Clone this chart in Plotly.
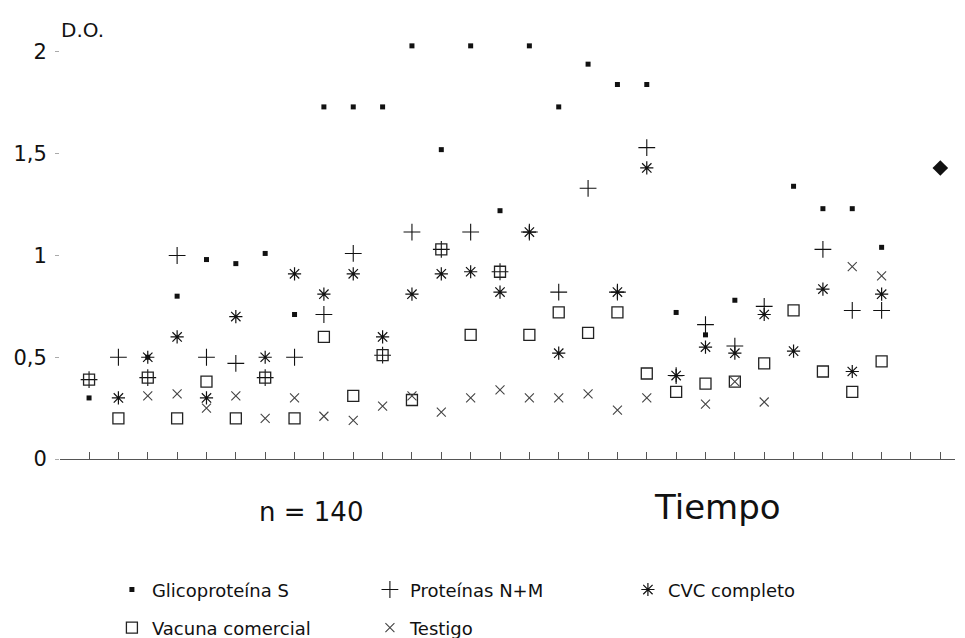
import plotly.graph_objects as go

# ---- data ----
tiempo = list(range(28))

glicoproteina_s = [0.30, None, 0.50, 0.80, 0.98, 0.96, 1.01, 0.71, 1.73, 1.73,
                   1.73, 2.03, 1.52, 2.03, 1.22, 2.03, 1.73, 1.94, 1.84, 1.84,
                   0.72, 0.61, 0.78, None, 1.34, 1.23, 1.23, 1.04]

proteinas_nm = [0.39, 0.50, 0.40, 1.00, 0.50, 0.47, 0.40, 0.50, 0.71, 1.01,
                0.51, 1.115, 1.03, 1.115, 0.92, 1.115, 0.82, 1.33, 0.82, 1.53,
                0.41, 0.66, 0.555, 0.75, None, 1.03, 0.73, 0.73]

cvc_completo = [None, 0.30, 0.50, 0.60, 0.30, 0.70, 0.50, 0.91, 0.81, 0.91,
                0.60, 0.81, 0.91, 0.92, 0.82, 1.115, 0.52, None, 0.82, 1.43,
                0.41, 0.55, 0.52, 0.71, 0.53, 0.835, 0.43, 0.81]

vacuna_comercial = [0.39, 0.20, 0.40, 0.20, 0.38, 0.20, 0.40, 0.20, 0.60, 0.31,
                    0.51, 0.29, 1.03, 0.61, 0.92, 0.61, 0.72, 0.62, 0.72, 0.42,
                    0.33, 0.37, 0.38, 0.47, 0.73, 0.43, 0.33, 0.48]

testigo = [None, None, 0.31, 0.32, 0.25, 0.31, 0.20, 0.30, 0.21, 0.19,
           0.26, 0.31, 0.23, 0.30, 0.34, 0.30, 0.30, 0.32, 0.24, 0.30,
           None, 0.27, 0.38, 0.28, None, None, 0.945, 0.90]

extra_x = [29]
extra_y = [1.43]

y_ticks = [0, 0.5, 1, 1.5, 2]
y_tick_labels = ["0", "0,5", "1", "1,5", "2"]

FONT = "DejaVu Sans"
INK = "#111111"

fig = go.Figure()

fig.add_trace(go.Scatter(
    x=tiempo, y=glicoproteina_s, mode="markers", name="Glicoproteína S",
    marker=dict(symbol="square", size=5, color=INK), legend="legend"))
fig.add_trace(go.Scatter(
    x=tiempo, y=proteinas_nm, mode="markers", name="Proteínas N+M",
    marker=dict(symbol="cross-thin-open", size=12, color=INK,
                line=dict(width=1.1, color=INK)), legend="legend"))
fig.add_trace(go.Scatter(
    x=tiempo, y=cvc_completo, mode="markers", name="CVC completo",
    marker=dict(symbol="asterisk-open", size=11, color=INK,
                line=dict(width=1.2, color=INK)), legend="legend"))
fig.add_trace(go.Scatter(
    x=tiempo, y=vacuna_comercial, mode="markers", name="Vacuna comercial",
    marker=dict(symbol="square-open", size=11, color="#222222",
                line=dict(width=1.3, color="#222222")), legend="legend2"))
fig.add_trace(go.Scatter(
    x=tiempo, y=testigo, mode="markers", name="Testigo",
    marker=dict(symbol="x-thin-open", size=9, color="#444444",
                line=dict(width=1.1, color="#444444")), legend="legend2"))
fig.add_trace(go.Scatter(
    x=extra_x, y=extra_y, mode="markers", showlegend=False,
    marker=dict(symbol="diamond", size=12, color=INK)))

legend_common = dict(
    orientation="h", xanchor="left", yanchor="middle",
    entrywidth=213, entrywidthmode="pixels", itemwidth=30,
    font=dict(family=FONT, size=18, color=INK),
    bgcolor="rgba(0,0,0,0)", borderwidth=0,
)

fig.update_layout(
    width=965, height=638,
    margin=dict(l=60, r=10, t=20, b=179, autoexpand=False),
    paper_bgcolor="white", plot_bgcolor="white",
    font=dict(family=FONT, color=INK),
    legend=dict(x=0.058, y=-0.298, **legend_common),
    legend2=dict(x=0.058, y=-0.385, **legend_common),
    xaxis=dict(
        range=[-0.99, 29.5], showgrid=False, zeroline=False,
        showline=True, linecolor="#555555", linewidth=1,
        ticks="inside", ticklen=7, tickcolor="#555555", tickwidth=1,
        tickvals=list(range(0, 30)), showticklabels=False,
    ),
    yaxis=dict(
        range=[0, 2.157], showgrid=False, zeroline=False, showline=False,
        ticks="outside", ticklen=4, tickcolor="#aaaaaa",
        tickvals=y_ticks, ticktext=y_tick_labels,
        tickfont=dict(family=FONT, size=21, color=INK),
        ticklabelstandoff=4,
    ),
    annotations=[
        dict(text="D.O.", xref="paper", yref="paper", x=0.0246, y=0.977,
             xanchor="center", yanchor="middle", showarrow=False,
             font=dict(family=FONT, size=20, color=INK)),
        dict(text="n = 140", xref="paper", yref="paper",
             x=(311 - 60) / 895, y=(459 - 512) / 439,
             xanchor="center", yanchor="middle", showarrow=False,
             font=dict(family=FONT, size=26, color=INK)),
        dict(text="Tiempo", xref="paper", yref="paper",
             x=(717 - 60) / 895, y=(459 - 507) / 439,
             xanchor="center", yanchor="middle", showarrow=False,
             font=dict(family=FONT, size=34, color=INK)),
    ],
)

fig.write_html("out.html")
